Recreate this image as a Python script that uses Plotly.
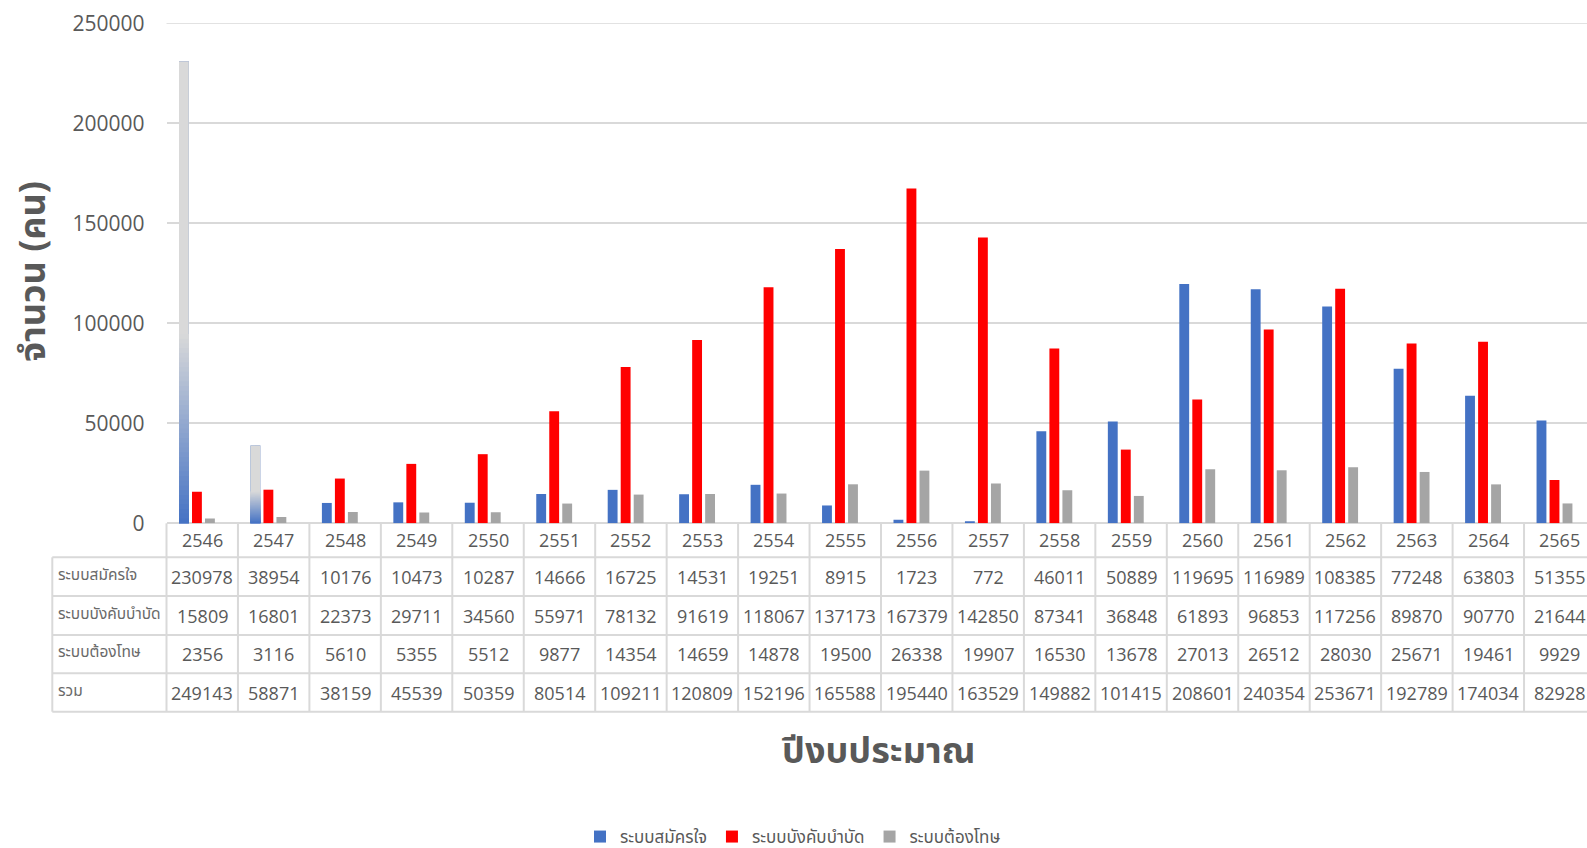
import plotly.graph_objects as go

# ---------------- data ----------------
years = ["2546", "2547", "2548", "2549", "2550", "2551", "2552", "2553", "2554", "2555",
         "2556", "2557", "2558", "2559", "2560", "2561", "2562", "2563", "2564", "2565"]
voluntary = [230978, 38954, 10176, 10473, 10287, 14666, 16725, 14531, 19251, 8915,
             1723, 772, 46011, 50889, 119695, 116989, 108385, 77248, 63803, 51355]
compulsory = [15809, 16801, 22373, 29711, 34560, 55971, 78132, 91619, 118067, 137173,
              167379, 142850, 87341, 36848, 61893, 96853, 117256, 89870, 90770, 21644]
penal = [2356, 3116, 5610, 5355, 5512, 9877, 14354, 14659, 14878, 19500,
         26338, 19907, 16530, 13678, 27013, 26512, 28030, 25671, 19461, 9929]
totals = [249143, 58871, 38159, 45539, 50359, 80514, 109211, 120809, 152196, 165588,
          195440, 163529, 149882, 101415, 208601, 240354, 253671, 192789, 174034, 82928]
series_names = ["ระบบสมัครใจ", "ระบบบังคับบำบัด", "ระบบต้องโทษ"]
total_label = "รวม"
y_ticks = [0, 50000, 100000, 150000, 200000, 250000]
y_title = "จำนวน (คน)"
x_title = "ปีงบประมาณ"
gradient_years = ["2546", "2547"]   # bars of the first series drawn with a gradient fill

# ---------------- style ----------------
W, H = 1587, 848
TXT = "#595959"
GRID = "#D9D9D9"
FONT = "Open Sans, Noto Sans Thai, Tahoma, sans-serif"
colors = ["#4472C4", "#FF0000", "#A5A5A5"]
LIGHT = (217, 217, 217)
BLUE = (68, 114, 196)


def px_x(x):
    """window pixel -> paper fraction"""
    return x / W


def px_y(y):
    return (H - y) / H


PLOT_L, PLOT_T, PLOT_B = 166.5, 23.3, 523.3
CAT_W = 71.45
x_range = [-0.5, -0.5 + (W - PLOT_L) / CAT_W]

bar_w = 0.138
offsets = [-0.325, -0.143, 0.039]
xpos = list(range(len(years)))

fig = go.Figure()
for name, vals, col, off in zip(series_names, [voluntary, compulsory, penal], colors, offsets):
    fig.add_trace(go.Bar(x=xpos, y=vals, name=name, marker=dict(color=col, line=dict(width=0)),
                         width=bar_w, offset=off, hovertext=years))

# gradient overlay for the first series' bars in gradient_years
N = 40
SHARE = 0.41
gx, gy, gc = [], [], []
for yr in gradient_years:
    i = years.index(yr)
    v = voluntary[i]
    gx.append(i); gy.append(v); gc.append("rgb(%d,%d,%d)" % LIGHT)
    for k in range(N):
        t = (N - k - 0.5) / N
        c = tuple(round(BLUE[j] + (LIGHT[j] - BLUE[j]) * t) for j in range(3))
        gx.append(i); gy.append(v * SHARE * (N - k) / N); gc.append("rgb(%d,%d,%d)" % c)
fig.add_trace(go.Bar(x=gx, y=gy, marker=dict(color=gc, line=dict(width=0)), width=bar_w,
                     offset=offsets[0], showlegend=False, hoverinfo="skip"))

# ---------------- data table ----------------
ROW_LINES = [557.3, 596.0, 635.0, 673.3, 711.7]
LABEL_L = 52.3
shapes = []
line = dict(color=GRID, width=2)
shapes.append(dict(type="line", xref="x domain", yref="y", x0=0, x1=1, y0=y_ticks[-1], y1=y_ticks[-1],
                   line=dict(color=GRID, width=1.5), layer="below"))
for yy in ROW_LINES:
    shapes.append(dict(type="line", xref="paper", yref="paper", x0=px_x(LABEL_L), x1=1,
                       y0=px_y(yy), y1=px_y(yy), line=line, layer="above"))
shapes.append(dict(type="line", xref="paper", yref="paper", x0=px_x(LABEL_L), x1=px_x(LABEL_L),
                   y0=px_y(ROW_LINES[0]), y1=px_y(ROW_LINES[-1]), line=line))
shapes.append(dict(type="line", xref="x domain", yref="paper", x0=0, x1=0,
                   y0=px_y(PLOT_B), y1=px_y(ROW_LINES[-1]), line=line))
for i in range(1, len(years) + 1):
    shapes.append(dict(type="line", xref="x", yref="paper", x0=i - 0.5, x1=i - 0.5,
                       y0=px_y(PLOT_B), y1=px_y(ROW_LINES[-1]), line=line))

annotations = []
header_y = (PLOT_B + ROW_LINES[0]) / 2
for i, yr in enumerate(years):
    annotations.append(dict(x=i, xref="x", y=px_y(header_y), yref="paper", text=yr,
                            xanchor="center", yanchor="middle", showarrow=False,
                            font=dict(size=18, color=TXT, family=FONT)))
row_vals = [voluntary, compulsory, penal, totals]
row_labels = series_names + [total_label]
for r, (lab, vals) in enumerate(zip(row_labels, row_vals)):
    cy = (ROW_LINES[r] + ROW_LINES[r + 1]) / 2
    annotations.append(dict(x=px_x(LABEL_L + 4), xref="paper", xanchor="left",
                            y=px_y(cy - 3), yref="paper", yanchor="middle", text=lab, showarrow=False,
                            font=dict(size=15.5, color="#6a6a6a", family=FONT)))
    for i, v in enumerate(vals):
        annotations.append(dict(x=i, xref="x", y=px_y(cy), yref="paper", text=str(v),
                                xanchor="center", yanchor="middle", showarrow=False,
                                font=dict(size=18, color=TXT, family=FONT)))

annotations.append(dict(x=px_x(31), y=px_y(272), xref="paper", yref="paper", text="<b>%s</b>" % y_title,
                        xanchor="center", yanchor="middle", textangle=-90, showarrow=False,
                        font=dict(size=36, color=TXT, family=FONT)))
annotations.append(dict(x=px_x(878), y=px_y(749), xref="paper", yref="paper", text="<b>%s</b>" % x_title,
                        xanchor="center", yanchor="middle", showarrow=False,
                        font=dict(size=36, color=TXT, family=FONT)))

fig.update_layout(
    width=W, height=H,
    margin=dict(l=0, r=0, t=0, b=0, autoexpand=False),
    paper_bgcolor="white", plot_bgcolor="white",
    barmode="group",
    font=dict(family=FONT, color=TXT),
    showlegend=True,
    legend=dict(orientation="h", x=px_x(793), xanchor="center", y=px_y(837), yanchor="middle",
                font=dict(size=17, color=TXT, family=FONT), bgcolor="rgba(0,0,0,0)"),
    xaxis=dict(domain=[px_x(PLOT_L), 1], range=x_range, showticklabels=False,
               showgrid=False, zeroline=False, showline=False, ticks=""),
    yaxis=dict(domain=[px_y(PLOT_B), px_y(PLOT_T)], range=[0, 250000], tickvals=y_ticks,
               ticktext=[str(v) for v in y_ticks], showgrid=True, gridcolor=GRID, gridwidth=1.5,
               zeroline=True, zerolinecolor=GRID, zerolinewidth=2, showline=False, ticks="",
               ticklabelstandoff=21, tickfont=dict(size=21, color=TXT, family=FONT)),
    shapes=shapes,
    annotations=annotations,
)

# the page's default body margin would push the 1587x848 figure out of the window
fig.write_html("out.html", config={"displayModeBar": False},
               post_script="document.body.style.margin='0px';document.body.style.overflow='hidden';")
